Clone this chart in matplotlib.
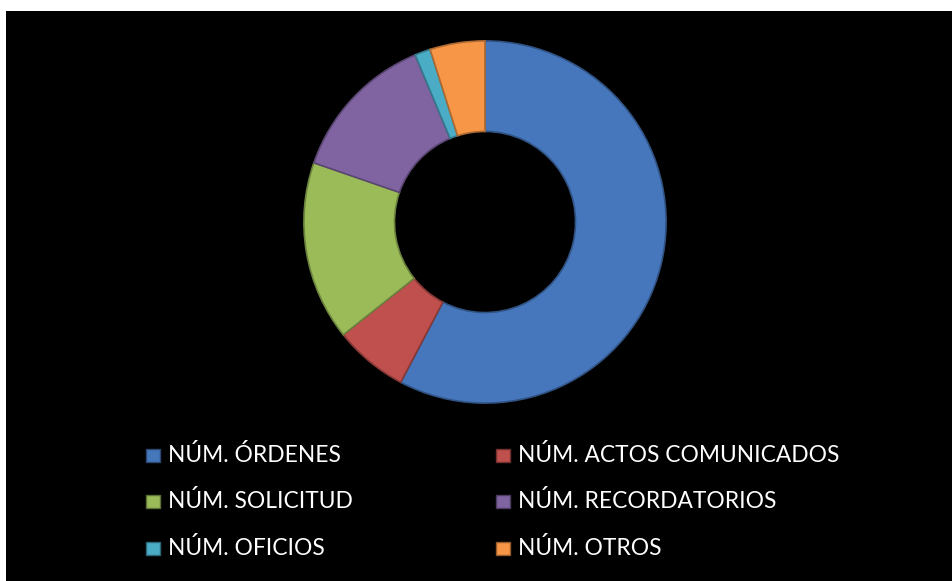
import matplotlib.pyplot as plt
from matplotlib.patches import Rectangle
from matplotlib.colors import to_rgb

categories = ['NÚM. ÓRDENES', 'NÚM. ACTOS COMUNICADOS', 'NÚM. SOLICITUD',
              'NÚM. RECORDATORIOS', 'NÚM. OFICIOS', 'NÚM. OTROS']
values = [577, 66, 160, 134, 14, 49]
colors = ['#4677bd', '#c0504d', '#9bbb59', '#8064a2', '#4bacc6', '#f79646']

W, H = 952, 581


def darker(c, f=0.75):
    r, g, b = to_rgb(c)
    return (r * f, g * f, b * f)


fig = plt.figure(figsize=(W / 100, H / 100), dpi=100)
fig.patch.set_facecolor('white')
fig.patches.append(Rectangle((6 / W, 0), 1 - 6 / W, (H - 11) / H,
                             transform=fig.transFigure, facecolor='black',
                             edgecolor='none', zorder=-5))

# donut centred at (485, 222) px, outer radius 182 px
cx, cy, r = 485, 222, 182
ax = fig.add_axes([(cx - r) / W, (H - cy - r) / H, 2 * r / W, 2 * r / H])
ax.set_zorder(2)
ax.axis('off')

wedges, _ = ax.pie(values, colors=colors, startangle=90, counterclock=False,
                   radius=1, wedgeprops=dict(width=0.5, linewidth=1.2))
for w, c in zip(wedges, colors):
    w.set_edgecolor(darker(c, 0.7))
ax.set_xlim(-1.005, 1.005)
ax.set_ylim(-1.005, 1.005)
ax.set_aspect('equal')

# legend, row-major, two columns
rows = [455, 501, 548]
cols = [(146, 168), (496, 518)]
for i, (lab, c) in enumerate(zip(categories, colors)):
    (mx, tx), y = cols[i % 2], rows[i // 2]
    fig.patches.append(Rectangle((mx / W, (H - y - 7) / H), 14 / W, 13 / H,
                                 transform=fig.transFigure, facecolor=c,
                                 edgecolor=darker(c, 0.6), linewidth=1,
                                 zorder=3))
    fig.text(tx / W, (H - y) / H, lab, color='white', fontsize=16.4,
             family='Lato', va='center', ha='left', zorder=3)

fig.savefig('out.png', dpi=100, facecolor=fig.get_facecolor())
